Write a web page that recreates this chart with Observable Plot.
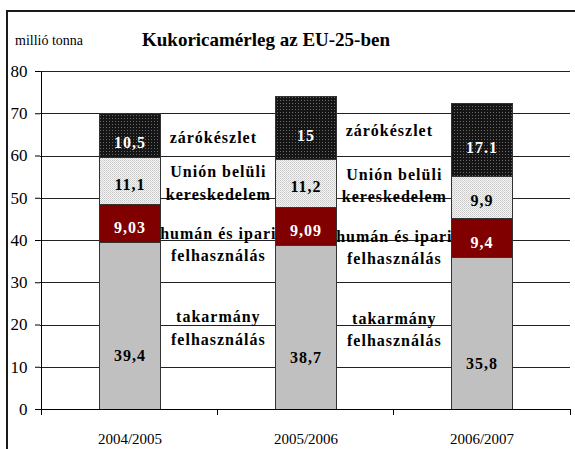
<!DOCTYPE html>
<html>
<head>
<meta charset="utf-8">
<script src="https://cdn.jsdelivr.net/npm/d3@7"></script>
<script src="https://cdn.jsdelivr.net/npm/@observablehq/plot@0.6"></script>
<style>
  html, body { margin: 0; padding: 0; background: #fff; overflow: hidden; }
  #wrap { position: relative; width: 575px; height: 449px; overflow: hidden; font-family: "Liberation Serif", "Times New Roman", serif; }
  #frame { position: absolute; left: 6px; top: 10px; width: 700px; height: 700px; border-left: 2px solid #1a1a1a; border-top: 2px solid #1a1a1a; pointer-events: none; }
  #unit { position: absolute; left: 15px; top: 33px; font-size: 14px; color: #000; }
  #title { position: absolute; left: 0; width: 532px; text-align: center; top: 29px; font-size: 19px; font-weight: bold; color: #000; }
  svg { position: absolute; left: 0; top: 0; }
  svg line, svg rect { shape-rendering: crispEdges; }
  .lbl text { letter-spacing: 1px; font-family: "Liberation Serif", "Times New Roman", serif; }
</style>
</head>
<body>
<div id="wrap">
  <div id="chart"></div>
  <div id="frame"></div>
  <div id="unit">millió tonna</div>
  <div id="title">Kukoricamérleg az EU-25-ben</div>
</div>
<script>
// ---- data ----
const categories = ["2004/2005", "2005/2006", "2006/2007"];
const seriesNames = ["takarmány felhasználás", "humán és ipari felhasználás", "Unión belüli kereskedelem", "zárókészlet"];
const takarmany = [39.4, 38.7, 35.8];
const human = [9.03, 9.09, 9.4];
const unio = [11.1, 11.2, 9.9];
const zaro = [10.5, 15, 17.1];
const takarmanyLabels = ["39,4", "38,7", "35,8"];
const humanLabels = ["9,03", "9,09", "9,4"];
const unioLabels = ["11,1", "11,2", "9,9"];
const zaroLabels = ["10,5", "15", "17.1"];
const seriesTexts = ["takarmány\nfelhasználás", "humán és ipari\nfelhasználás", "Unión belüli\nkereskedelem", "zárókészlet"];
const yTicks = [0, 10, 20, 30, 40, 50, 60, 70, 80];

// ---- build table ----
const seriesValues = [takarmany, human, unio, zaro];
const seriesLabels = [takarmanyLabels, humanLabels, unioLabels, zaroLabels];
const rows = [];
categories.forEach((cat, i) => {
  let acc = 0;
  seriesNames.forEach((s, k) => {
    const v = seriesValues[k][i];
    rows.push({cat, ci: i, series: s, k, value: v, y1: acc, y2: acc + v, mid: acc + v / 2,
               label: seriesLabels[k][i], text: seriesTexts[k]});
    acc += v;
  });
});

const W = 575, H = 449, mL = 40, mR = 5, mT = 71, mB = 40;
const step = (W - mL - mR) / categories.length;
const fills = ["#c0c0c0", "#800000", "url(#lightdots)", "url(#darkdots)"];
const textFills = ["#000", "#fff", "#000", "#fff"];
const valueDy = [30, 4, 3, 7];
const seriesDy = [0, 19, 0, 0];
const seriesDx = [0, 0, 0, -5];
const font = "Liberation Serif";

const marks = [
  Plot.gridY(yTicks, {stroke: "#222", strokeOpacity: 1, strokeWidth: 1}),
  Plot.barY(rows, {x: "cat", y1: "y1", y2: "y2", fill: "series", stroke: "#333", strokeWidth: 1}),
  Plot.ruleY([0], {stroke: "#000"}),
  Plot.ruleX([categories[0]], {stroke: "#000", dx: -step / 2}),
  Plot.ruleX(categories, {x: d => d, y1: d => 0, y2: d => 0, dx: -step / 2, insetBottom: -6, stroke: "#000"}),
  Plot.ruleX([categories[categories.length - 1]], {x: d => d, y1: d => 0, y2: d => 0, dx: step / 2, insetBottom: -6, stroke: "#000"}),
  Plot.axisY({ticks: yTicks, tickSize: 5, tickPadding: 8, fontSize: 17, fontFamily: font, label: null, stroke: "#000"}),
  Plot.axisX({tickSize: 0, tickPadding: 24, fontSize: 15, fontFamily: font, label: null})
];
seriesNames.forEach((s, k) => {
  marks.push(Plot.text(rows.filter(r => r.k === k), {
    x: "cat", y: "mid", text: "label", fill: textFills[k], dy: valueDy[k],
    fontSize: 16, fontWeight: "bold", fontFamily: font, className: "lbl"
  }));
  marks.push(Plot.text(rows.filter(r => r.k === k && r.ci < categories.length - 1), {
    x: "cat", y: "mid", text: "text", fill: "#000", dx: step / 2 + seriesDx[k], dy: seriesDy[k],
    fontSize: 16, fontWeight: "bold", fontFamily: font, lineHeight: 1.4, className: "lbl"
  }));
});

const chart = Plot.plot({
  width: W, height: H,
  marginLeft: mL, marginRight: mR, marginTop: mT, marginBottom: mB,
  style: {fontFamily: font, background: "transparent", color: "#000"},
  x: {domain: categories, paddingInner: 0.655, paddingOuter: 0.3275, axis: null},
  y: {domain: [0, 80], axis: null},
  color: {domain: seriesNames, range: fills},
  marks
});

// patterns for the dotted fills
const ns = "http://www.w3.org/2000/svg";
const defs = document.createElementNS(ns, "defs");
defs.innerHTML = `
  <pattern id="lightdots" width="2" height="2" patternUnits="userSpaceOnUse">
    <rect width="2" height="2" fill="#f4f4f4"/>
    <rect x="0" y="0" width="1" height="1" fill="#c8c8c8"/>
    <rect x="1" y="1" width="1" height="1" fill="#d8d8d8"/>
  </pattern>
  <pattern id="darkdots" width="3" height="3" patternUnits="userSpaceOnUse">
    <rect width="3" height="3" fill="#151515"/>
    <rect x="1" y="1" width="1" height="1" fill="#6a6a6a"/>
  </pattern>`;
chart.insertBefore(defs, chart.firstChild);
document.getElementById("chart").appendChild(chart);
</script>
</body>
</html>
